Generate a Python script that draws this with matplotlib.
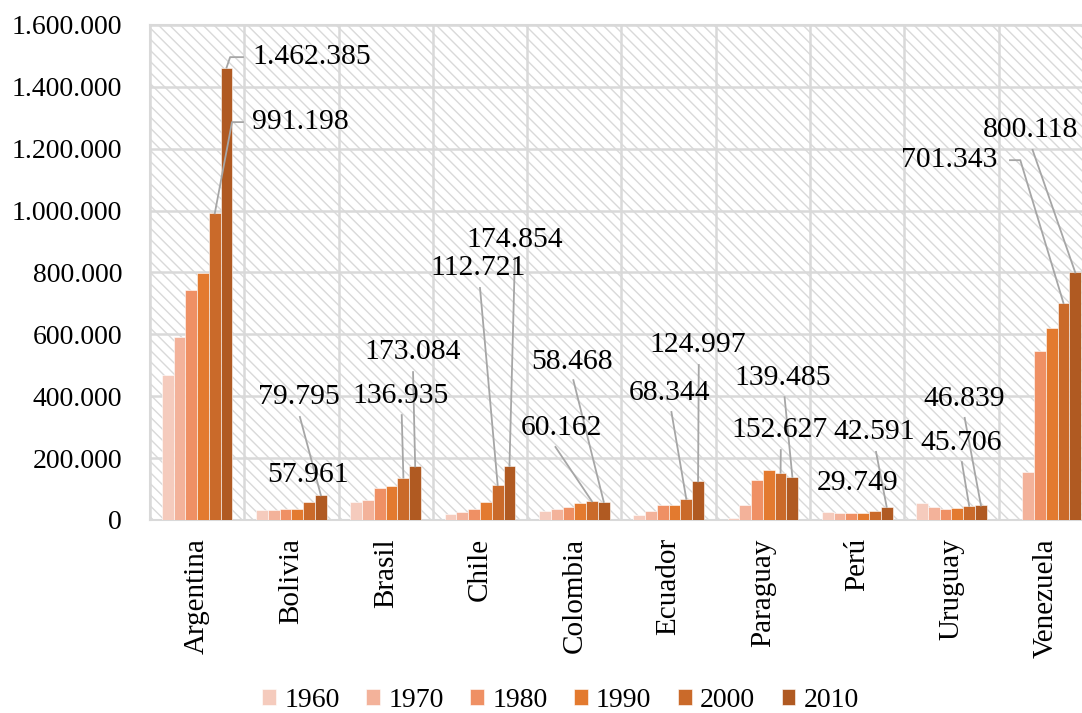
import numpy as np
import matplotlib.pyplot as plt
from matplotlib.patches import Rectangle
from matplotlib.ticker import FuncFormatter, MultipleLocator

plt.rcParams['font.family'] = ['Liberation Serif', 'DejaVu Serif']

countries = ['Argentina', 'Bolivia', 'Brasil', 'Chile', 'Colombia',
             'Ecuador', 'Paraguay', 'Perú', 'Uruguay', 'Venezuela']
years = ['1960', '1970', '1980', '1990', '2000', '2010']

v1960 = [469000, 32000, 58000, 20000, 30000, 15000, 6000, 26000, 54000, 0]
v1970 = [591000, 33000, 65000, 27000, 35000, 29000, 48000, 24000, 43000, 155000]
v1980 = [743000, 35000, 103000, 36000, 43000, 47000, 130000, 21000, 35000, 546000]
v1990 = [798000, 36000, 110000, 58000, 54000, 50000, 160000, 21000, 40000, 620000]
v2000 = [991198, 57961, 136935, 112721, 60162, 68344, 152627, 29749, 45706, 701343]
v2010 = [1462385, 79795, 173084, 174854, 58468, 124997, 139485, 42591, 46839, 800118]
series = [v1960, v1970, v1980, v1990, v2000, v2010]

colors = ['#f5cbbd', '#f3b29a', '#ef9064', '#e37a2f', '#ca6a2a', '#b05a22']

# label placement: (country, year index, text x, text y, ha, leader points)
labels = [
    (0, 5, 0.59, 1496000, 'left', [(0.486, 1496000), (0.35, 1496000)]),
    (0, 4, 0.58, 1286000, 'left', [(0.486, 1286000), (0.37, 1286000)]),
    (1, 5, 1.08, 397000, 'center', [(1.09, 333000)]),
    (1, 4, 1.18, 145000, 'center', None),
    (2, 4, 2.16, 401000, 'center', [(2.17, 339000)]),
    (2, 5, 2.29, 543000, 'center', [(2.29, 478000)]),
    (3, 4, 2.98, 814000, 'center', [(3.0, 750000)]),
    (3, 5, 3.37, 905000, 'center', [(3.37, 847000)]),
    (4, 4, 3.86, 297000, 'center', [(3.80, 236000)]),
    (4, 5, 3.98, 510000, 'center', [(3.99, 452000)]),
    (5, 4, 5.01, 410000, 'center', [(5.03, 349000)]),
    (5, 5, 5.31, 566000, 'center', [(5.32, 501000)]),
    (6, 5, 6.21, 459000, 'center', [(6.23, 397000)]),
    (6, 4, 6.18, 291000, 'center', [(6.19, 226000)]),
    (7, 5, 7.18, 284000, 'center', [(7.2, 220000)]),
    (7, 4, 7.0, 120000, 'center', None),
    (8, 5, 8.13, 391000, 'center', [(8.14, 330000)]),
    (8, 4, 8.10, 249000, 'center', [(8.11, 187000)]),
    (9, 4, 8.49, 1163000, 'right', [(8.62, 1163000), (8.73, 1163000)]),
    (9, 5, 8.84, 1260000, 'center', [(8.86, 1196000)]),
]


def fmt(v, pos=None):
    return f'{v:,.0f}'.replace(',', '.')


fig = plt.figure(figsize=(10.82, 7.13), dpi=100)
ax = fig.add_axes([0.1386, 0.2707, 0.8715, 0.6943])

x = np.arange(len(countries))
w = 0.125

# hatched background
ax.add_patch(Rectangle((0, 0), 1, 1, transform=ax.transAxes, facecolor='white',
                       edgecolor='#d9d9d9', hatch='\\\\\\', lw=0, zorder=0))
ax.set_axisbelow(True)
ax.grid(axis='y', color='#d9d9d9', lw=1.8, zorder=1)
for b in np.arange(-0.5, len(countries) + 0.5, 1):
    ax.axvline(b, color='#d9d9d9', lw=1.8, zorder=1)

for j, (vals, c) in enumerate(zip(series, colors)):
    ax.bar(x - 0.3125 + j * w, vals, w, color=c, edgecolor='white', lw=0.4,
           label=years[j], zorder=3)

for ci, yi, tx, ty, ha, pts in labels:
    val = series[yi][ci]
    bx = ci - 0.3125 + yi * w
    ax.text(tx, ty, fmt(val), ha=ha, va='center', fontsize=21.3, zorder=5,
            clip_on=False)
    if pts:
        xs = [p[0] for p in pts] + [bx]
        ys = [p[1] for p in pts] + [val]
        ax.plot(xs, ys, color='#a6a6a6', lw=1.3, zorder=4, clip_on=False)

ax.set_xlim(-0.5, len(countries) - 0.5)
ax.set_ylim(0, 1600000)
ax.yaxis.set_major_locator(MultipleLocator(200000))
ax.yaxis.set_major_formatter(FuncFormatter(fmt))
ax.set_xticks(x)
ax.set_xticklabels(countries, rotation=90, fontsize=21)
ax.tick_params(axis='y', length=0, pad=20, labelsize=20)
ax.tick_params(axis='x', length=0, pad=13)
for s in ax.spines.values():
    s.set_color('#d9d9d9')
    s.set_linewidth(1.5)

fig.legend(loc='center', bbox_to_anchor=(0.518, 0.018), ncol=6, frameon=False,
           fontsize=20, handlelength=0.5, handleheight=0.5, handletextpad=0.3,
           columnspacing=0.95)

fig.savefig('out.png', dpi=100)
